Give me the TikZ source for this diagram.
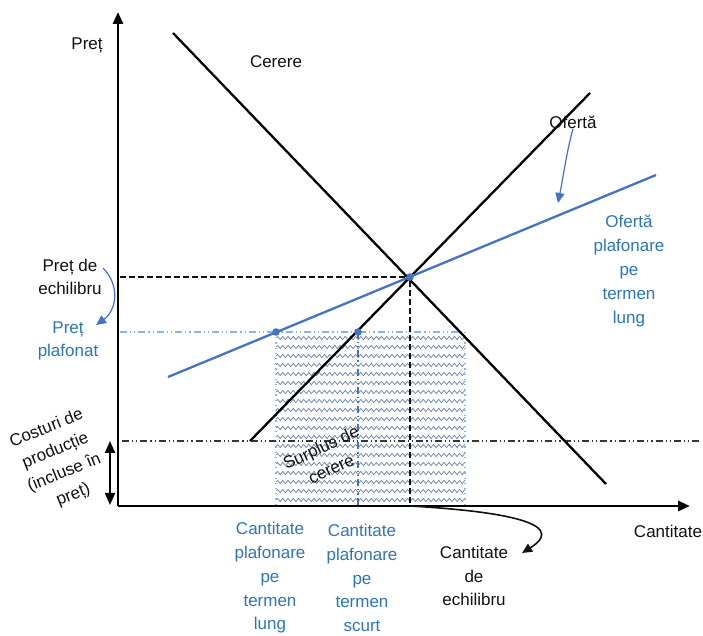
\documentclass[tikz,border=0pt]{standalone}
\usepackage{fontspec}
\setmainfont{Liberation Sans}
\usepackage{xcolor}
\definecolor{ink}{HTML}{111111}
\definecolor{ceilblue}{HTML}{4472C4}
\definecolor{ceiltext}{HTML}{2E75B6}
\definecolor{hatch}{HTML}{6A84A2}
\definecolor{frame}{HTML}{8FB4DC}
\usetikzlibrary{arrows.meta,decorations.pathmorphing}

\begin{document}
\begin{tikzpicture}[x=0.5pt,y=-0.5pt,font=\fontsize{8.5}{11.9}\selectfont,
  lbl/.style={align=center,inner sep=0pt,text=ink},
  blbl/.style={align=center,inner sep=0pt,text=ceiltext},
  ax/.style={line width=1.4pt,-{Triangle[length=6pt,width=5pt]}},
  crv/.style={line width=1.15pt},
  pt/.style={circle,fill=ceilblue,inner sep=0pt,minimum size=3.8pt},
  dashdot/.style={dash pattern=on 3.5pt off 1.5pt on 0.6pt off 1.5pt on 0.6pt off 1.5pt},
  tip/.style={-{Triangle[length=5pt,width=4.5pt]}}]
  \useasboundingbox (0,0) rectangle (703,636);
  % points of the graph
  \coordinate (O) at (118,506);
  \coordinate (ytop) at (118,12);
  \coordinate (xend) at (690,506);
  \coordinate (d1) at (173,33);  \coordinate (d2) at (606,484);
  \coordinate (s1) at (250,441); \coordinate (s2) at (590,93);
  \coordinate (b1) at (168,377); \coordinate (b2) at (656,175);
  \coordinate (qe) at (410,506);
  \coordinate (qs) at (358,506);
  % surplus area
  \begin{scope}
    \clip (276,332) rectangle (465,506);
    \foreach \r in {0,...,18}
      \draw[hatch,line width=0.35pt,decorate,decoration={snake,segment length=2.6pt,amplitude=0.8pt}]
        (276,{338+\r*9}) -- (470,{338+\r*9});
  \end{scope}
  \draw[frame,dotted,line width=0.6pt] (276,332) -- (276,506) (465,332) -- (465,506);
  \draw[frame,dashdot,line width=0.8pt] (120,332) -- (465,332);
  \draw[ceilblue,dashdot,line width=1pt] (358,332) -- (qs);
  % costs line
  \draw[ink!85,dashdot,line width=0.7pt] (122,441) -- (700,441);
  % curves
  \draw[crv] (d1) -- (d2);
  \draw[crv] (s1) -- (s2);
  \draw[crv,ceilblue] (b1) -- (b2);
  \node[pt] (E) at (410,277) {};
  \node[pt] (P1) at (276,332) {};
  \node[pt] (P2) at (358,332) {};
  \draw[ink,line width=1pt,dash pattern=on 3pt off 1.5pt] (120,277) -- (E) -- (qe);
  % axes
  \draw[ax] (O) -- (ytop);
  \draw[ax] (O) -- (xend);
  \draw[line width=1pt,{Triangle[length=6pt,width=5pt]}-{Triangle[length=6pt,width=5pt]}] (110,441) -- (110,505);
  % labels
  \node[lbl] (yl) at (87,45) {Preț};
  \node[lbl] (xl) at (668,531) {Cantitate};
  \node[lbl] (dl) at (276,62) {Cerere};
  \node[lbl] (sl) at (573,122) {Ofertă};
  \node[blbl] (bl) at (629,271) {Ofertă\\plafonare\\pe\\termen\\lung};
  \node[lbl] (pe) at (70,277) {Preț de\\echilibru};
  \node[blbl] (pp) at (68,341) {Preț\\plafonat};
  \node[lbl,rotate=22] (cost) at (60,462) {Costuri de\\producție\\(incluse în\\preț)};
  \node[lbl,rotate=25] (sur) at (326,458) {Surplus de\\cerere};
  \node[blbl] (ql) at (270,578) {Cantitate\\plafonare\\pe\\termen\\lung};
  \node[blbl] (qsl) at (362,578) {Cantitate\\plafonare\\pe\\termen\\scurt};
  \node[lbl] (qel) at (474,576) {Cantitate\\de\\echilibru};
  % pointers
  \draw[ceilblue,line width=0.6pt,tip] (sl.south) .. controls (567,150) and (563,178) .. (558,203);
  \draw[ceilblue,line width=0.6pt,tip] (103,268) .. controls (120,285) and (117,310) .. (96,325);
  \draw[ink,line width=0.8pt,tip] (qe) .. controls (480,510) and (575,520) .. (522,553);
\end{tikzpicture}
\end{document}
